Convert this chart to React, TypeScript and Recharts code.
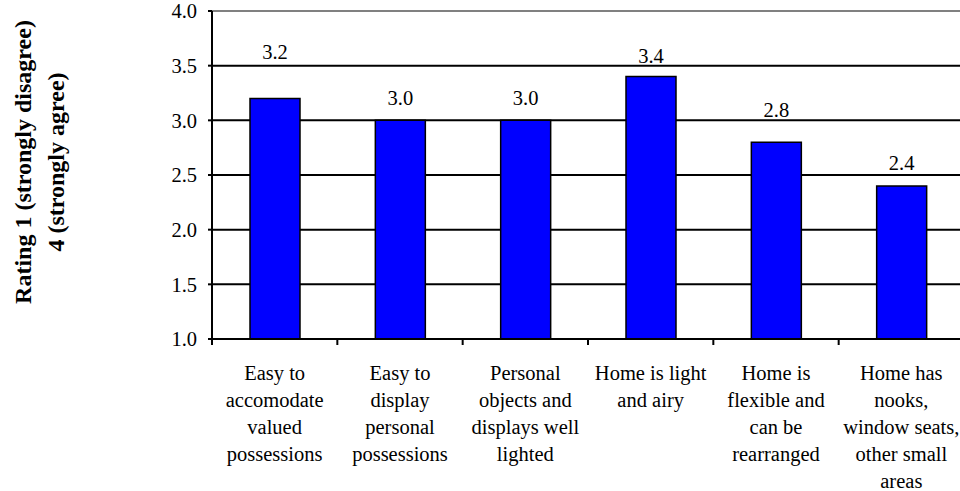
import React from 'react';
import { BarChart, Bar, XAxis, YAxis, CartesianGrid, ReferenceLine, LabelList } from 'recharts';

// Survey statements (line breaks mark the wrapped label lines)
const categories = [
  'Easy to\naccomodate\nvalued\npossessions',
  'Easy to\ndisplay\npersonal\npossessions',
  'Personal\nobjects and\ndisplays well\nlighted',
  'Home is light\nand airy',
  'Home is\nflexible and\ncan be\nrearranged',
  'Home has\nnooks,\nwindow seats,\nother small\nareas',
];

// Mean rating per statement
const ratings = [3.2, 3.0, 3.0, 3.4, 2.8, 2.4];

// Rating scale ticks
const yTicks = [1.0, 1.5, 2.0, 2.5, 3.0, 3.5, 4.0];

const axisTitle = ['Rating 1 (strongly disagree)', '4 (strongly agree)'];

const data = categories.map((name, i) => ({ name, rating: ratings[i] }));

const FONT = "'Liberation Serif', 'Times New Roman', Times, serif";
const TEXT_SIZE = 20.5;

// How far each value label sits above its bar top (px)
const valueLabelLift = [46.6, 22, 22, 20.6, 32, 23.3];

function CategoryTick(props: any) {
  const { x, y, payload, index } = props;
  const half = (payload && payload.offset) || 62.67;
  const lines = String(payload.value).split('\n');
  return (
    <g>
      {index === 0 && (
        <line x1={x - half} y1={y} x2={x - half} y2={y + 6} stroke="#000" strokeWidth={2} />
      )}
      <line x1={x + half} y1={y} x2={x + half} y2={y + 6} stroke="#000" strokeWidth={2} />
      <text x={x} y={y + 41} textAnchor="middle" fontFamily={FONT} fontSize={TEXT_SIZE} fill="#000">
        {lines.map((l, i) => (
          <tspan key={i} x={x} dy={i === 0 ? 0 : 27}>
            {l}
          </tspan>
        ))}
      </text>
    </g>
  );
}

function renderValue(props: any) {
  const { x, y, width, value, index } = props;
  const cx = Number(x) + Number(width) / 2;
  const ty = Number(y) - valueLabelLift[index] + 7;
  return (
    <text x={cx} y={ty} textAnchor="middle" fontFamily={FONT} fontSize={TEXT_SIZE} fill="#000">
      {Number(value).toFixed(1)}
    </text>
  );
}

function renderTitle(props: any) {
  const vb = props.viewBox || { x: 0, y: 11, width: 212, height: 328 };
  const cx = vb.x + 31;
  const cy = vb.y + vb.height / 2 - 13;
  return (
    <text
      x={cx}
      y={cy}
      transform={`rotate(-90, ${cx}, ${cy})`}
      textAnchor="middle"
      fontFamily={FONT}
      fontWeight="bold"
      fontSize={24}
      fill="#000"
    >
      <tspan x={cx} dy={0}>{axisTitle[0]}</tspan>
      <tspan x={cx} dy={33}>{axisTitle[1]}</tspan>
    </text>
  );
}

export default function App() {
  return (
    <div
      style={{
        position: 'absolute',
        left: 0,
        top: 0,
        width: 960,
        height: 491,
        overflow: 'hidden',
        background: '#fff',
      }}
    >
      <BarChart
        width={964}
        height={491}
        data={data}
        margin={{ top: 11, right: 0, left: 0, bottom: 0 }}
        barCategoryGap={0}
      >
        <CartesianGrid vertical={false} stroke="#000" strokeWidth={2} />
        <ReferenceLine y={4} stroke="#808080" strokeWidth={2} />
        <XAxis
          dataKey="name"
          interval={0}
          height={152}
          axisLine={{ stroke: '#000', strokeWidth: 2 }}
          tickLine={false}
          tickSize={0}
          tickMargin={0}
          tick={<CategoryTick />}
        />
        <YAxis
          width={212}
          domain={[1, 4]}
          ticks={yTicks}
          interval={0}
          tickFormatter={(v: number) => v.toFixed(1)}
          axisLine={{ stroke: '#000', strokeWidth: 2 }}
          tickLine={{ stroke: '#000', strokeWidth: 2 }}
          tickSize={4}
          tickMargin={11}
          tick={{ fill: '#000', fontFamily: FONT, fontSize: TEXT_SIZE }}
          label={renderTitle}
        />
        <Bar
          dataKey="rating"
          fill="#0000FF"
          stroke="#000"
          strokeWidth={1.5}
          barSize={50}
          isAnimationActive={false}
        >
          <LabelList dataKey="rating" content={renderValue} />
        </Bar>
      </BarChart>
    </div>
  );
}
